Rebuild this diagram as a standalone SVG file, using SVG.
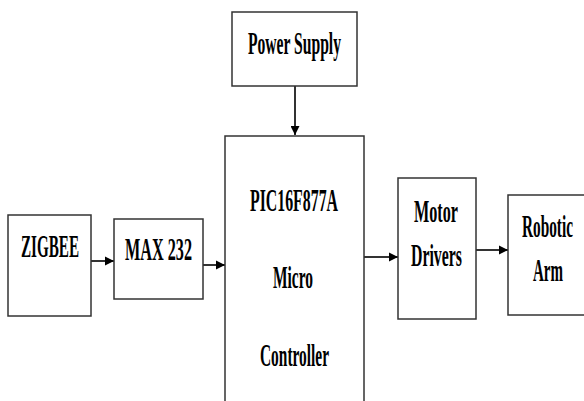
<svg xmlns="http://www.w3.org/2000/svg" width="584" height="401" viewBox="0 0 584 401">
<defs>
<style>
.box{fill:#fff;stroke:#333;stroke-width:1.5}
.lbl{font-family:"Liberation Serif","Times New Roman",serif;font-weight:bold;font-size:32px;fill:#000}
.wire{stroke:#333;stroke-width:2;fill:none}
</style>
<marker id="ah" viewBox="0 0 10 10" refX="10" refY="5" markerUnits="userSpaceOnUse" markerWidth="9" markerHeight="12" orient="auto">
<path d="M0,0 L10,5 L0,10 Z" fill="#000"/>
</marker>
<marker id="ahv" viewBox="0 0 10 10" refX="10" refY="5" markerUnits="userSpaceOnUse" markerWidth="16" markerHeight="9" orient="auto">
<path d="M0,0 L10,5 L0,10 Z" fill="#000"/>
</marker>
</defs>
<rect width="584" height="401" fill="#fff"/>
<g id="connectors">
<line class="wire" x1="295" y1="86" x2="295" y2="135" marker-end="url(#ahv)"/>
<line class="wire" x1="91" y1="261" x2="114" y2="261" marker-end="url(#ah)"/>
<line class="wire" x1="203" y1="265" x2="225" y2="265" marker-end="url(#ah)"/>
<line class="wire" x1="364" y1="257" x2="398" y2="257" marker-end="url(#ah)"/>
<line class="wire" x1="476" y1="250" x2="508" y2="250" marker-end="url(#ah)"/>
</g>
<g id="power-supply">
<rect class="box" x="232" y="12" width="125" height="74"/>
<text class="lbl" transform="translate(248,54) scale(0.5,1)" textLength="186" lengthAdjust="spacingAndGlyphs">Power Supply</text>
</g>
<g id="controller">
<rect class="box" x="225" y="136" width="139" height="280"/>
<text class="lbl" transform="translate(250,211) scale(0.5,1)" textLength="176" lengthAdjust="spacingAndGlyphs">PIC16F877A</text>
<text class="lbl" transform="translate(273,288) scale(0.5,1)" textLength="80" lengthAdjust="spacingAndGlyphs">Micro</text>
<text class="lbl" transform="translate(260,366) scale(0.5,1)" textLength="138" lengthAdjust="spacingAndGlyphs">Controller</text>
</g>
<g id="zigbee">
<rect class="box" x="8" y="215" width="83" height="101"/>
<text class="lbl" transform="translate(21,257) scale(0.5,1)" textLength="116" lengthAdjust="spacingAndGlyphs">ZIGBEE</text>
</g>
<g id="max232">
<rect class="box" x="114" y="219" width="89" height="80"/>
<text class="lbl" transform="translate(125,260) scale(0.5,1)" textLength="134" lengthAdjust="spacingAndGlyphs">MAX 232</text>
</g>
<g id="motor-drivers">
<rect class="box" x="398" y="178" width="78" height="141"/>
<text class="lbl" transform="translate(414,222) scale(0.5,1)" textLength="88" lengthAdjust="spacingAndGlyphs">Motor</text>
<text class="lbl" transform="translate(411,266) scale(0.5,1)" textLength="102" lengthAdjust="spacingAndGlyphs">Drivers</text>
</g>
<g id="robotic-arm">
<rect class="box" x="508" y="195" width="90" height="120"/>
<text class="lbl" transform="translate(522,237) scale(0.5,1)" textLength="102" lengthAdjust="spacingAndGlyphs">Robotic</text>
<text class="lbl" transform="translate(533,281) scale(0.5,1)" textLength="60" lengthAdjust="spacingAndGlyphs">Arm</text>
</g>
</svg>
